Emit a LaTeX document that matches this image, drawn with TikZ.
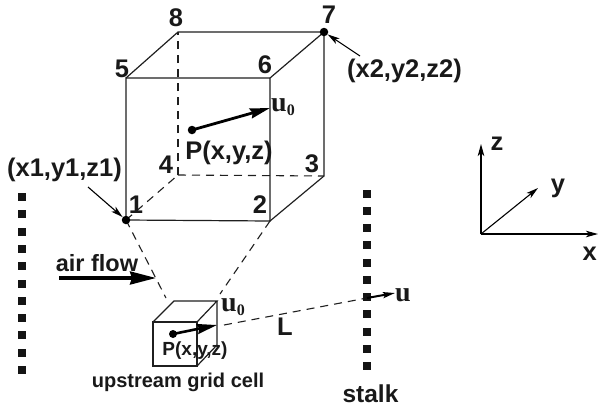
\documentclass[tikz,border=0pt]{standalone}
\usepackage{fontspec}
\setmainfont{Liberation Sans}
\newfontfamily\serifb{Liberation Serif}
\usetikzlibrary{arrows.meta}
\tikzset{
 edge/.style={line width=1.2pt,color=black!88},
 hid/.style={line width=1.1pt,color=black!88,dash pattern=on 8pt off 6pt},
 lead/.style={line width=1.1pt,-{Stealth[length=12pt,width=6.5pt,inset=3pt]}},
 fat/.style={line width=2.8pt,-{Stealth[length=20pt,width=10pt,inset=2pt]}},
 dotn/.style={circle,fill=black,inner sep=0pt,minimum size=8.5pt},
 sq/.style={fill=black!92,inner sep=0pt,minimum size=8pt},
 lab/.style={anchor=base,inner sep=0pt,font=\bfseries\fontsize{25.5}{25.5}\selectfont,color=black!90},
 ulab/.style={anchor=base west,inner sep=0pt,color=black!90},
 ufont/.style={font=\serifb\bfseries\fontsize{28}{28}\selectfont},
}
\begin{document}
\begin{tikzpicture}[x=1pt,y=-1pt]
\useasboundingbox (0,0) rectangle (598,408);
% big cube
\coordinate (c1) at (126,220);\coordinate (c2) at (270,221);\coordinate (c3) at (324,176);\coordinate (c4) at (178,175);
\coordinate (c5) at (126,78);\coordinate (c6) at (270,78);\coordinate (c7) at (324,32);\coordinate (c8) at (178,32);
\draw[edge] (c1)--(c2)--(c6)--(c5)--cycle;
\draw[edge] (c5)--(c8)--(c7)--(c6);
\draw[edge] (c7)--(c3)--(c2);
\draw[hid] (c1)--(c4);\draw[hid] (c4)--(c3);\draw[hid] (c4)--(c8);
% small cube
\coordinate (s1) at (153,322);\coordinate (s2) at (197,322);\coordinate (s3) at (197,366);\coordinate (s4) at (153,366);
\coordinate (s5) at (174,301);\coordinate (s6) at (217,301);\coordinate (s7) at (217,345);
\draw[edge] (s1)--(s2)--(s3)--(s4)--cycle;
\draw[edge] (s1)--(s5)--(s6)--(s2);
\draw[edge] (s6)--(s7)--(s3);
% dashed
\coordinate (d1) at (166,298);\coordinate (d2) at (220,294);\coordinate (d3) at (224,325);\coordinate (d4) at (367,298);
\draw[hid] (c1)--(d1);\draw[hid] (c2)--(d2);\draw[hid] (d3)--(d4);
% stalks
\foreach \i in {0,...,10}{
 \node[sq] (a\i) at (22,{197+17.3*\i}) {};
 \node[sq] (b\i) at (367,{193.5+17.25*\i}) {};
}
% dots
\node[dotn] (p7) at (c7) {};
\node[dotn] (p1) at (c1) {};
\node[dotn] (pb) at (192,130) {};
\node[dotn,minimum size=8pt] (ps) at (173,334) {};
% labels
\node[lab] (l8) at (176,26) {8};
\node[lab] (l5) at (122,77) {5};
\node[lab] (l6) at (265,73) {6};
\node[lab] (l7) at (329,23) {7};
\node[lab] (l4) at (166,173) {4};
\node[lab] (l3) at (312,172) {3};
\node[lab] (l1) at (136,213) {1};
\node[lab] (l2) at (260,213) {2};
\node[lab] (q1) at (64.5,176) {(x1,y1,z1)};
\node[lab] (q2) at (404.5,77) {(x2,y2,z2)};
\node[lab] (pbig) at (229,159) {P(x,y,z)};
\node[lab,font=\bfseries\fontsize{19}{19}\selectfont] (psm) at (195,355) {P(x,y,z)};
\node[lab,font=\bfseries\fontsize{20}{20}\selectfont] (ug) at (178,387) {upstream grid cell};
\node[lab,font=\bfseries\fontsize{23.5}{23.5}\selectfont] (af) at (97,271) {air flow};
\node[lab] (ll) at (285,335) {L};
\node[lab,font=\bfseries\fontsize{24.5}{24.5}\selectfont] (st) at (370.5,402) {stalk};
\node[lab] (zz) at (497,150) {z};
\node[lab] (yy) at (558,192) {y};
\node[lab,anchor=base east] (xx) at (597,260) {x};
\node[ulab,ufont] (u0a) at (271,111) {u\raisebox{-4pt}{\fontsize{16}{16}\selectfont 0}};
\node[ulab,ufont] (u0b) at (221,311) {u\raisebox{-4pt}{\fontsize{16}{16}\selectfont 0}};
\node[ulab,ufont] (uu) at (395,301) {u};
% arrows
\coordinate (a1s) at (88,187);\coordinate (a7s) at (360,56);
\draw[lead] (a1s)--(p1);
\draw[lead] (a7s)--(p7);
\coordinate (t1) at (270,108);\coordinate (t2) at (217,325);\coordinate (t3) at (395,293);
\coordinate (af1) at (59,278);\coordinate (af2) at (156,278);
\draw[fat] (pb.center)--(t1);
\draw[fat,line width=2.6pt] (ps.center)--(t2);
\draw[line width=2pt,-{Stealth[length=12pt,width=6pt,inset=2pt]}] (d4)--(t3);
\draw[line width=3.2pt,-{Stealth[length=26pt,width=13pt,inset=2pt]}] (af1)--(af2);
% axes
\coordinate (o) at (481,234);\coordinate (az) at (481,144);\coordinate (ay) at (538,188);\coordinate (ax) at (598,234);
\draw[lead] (o)--(az);\draw[lead] (o)--(ay);\draw[lead] (o)--(ax);
\end{tikzpicture}
\end{document}
